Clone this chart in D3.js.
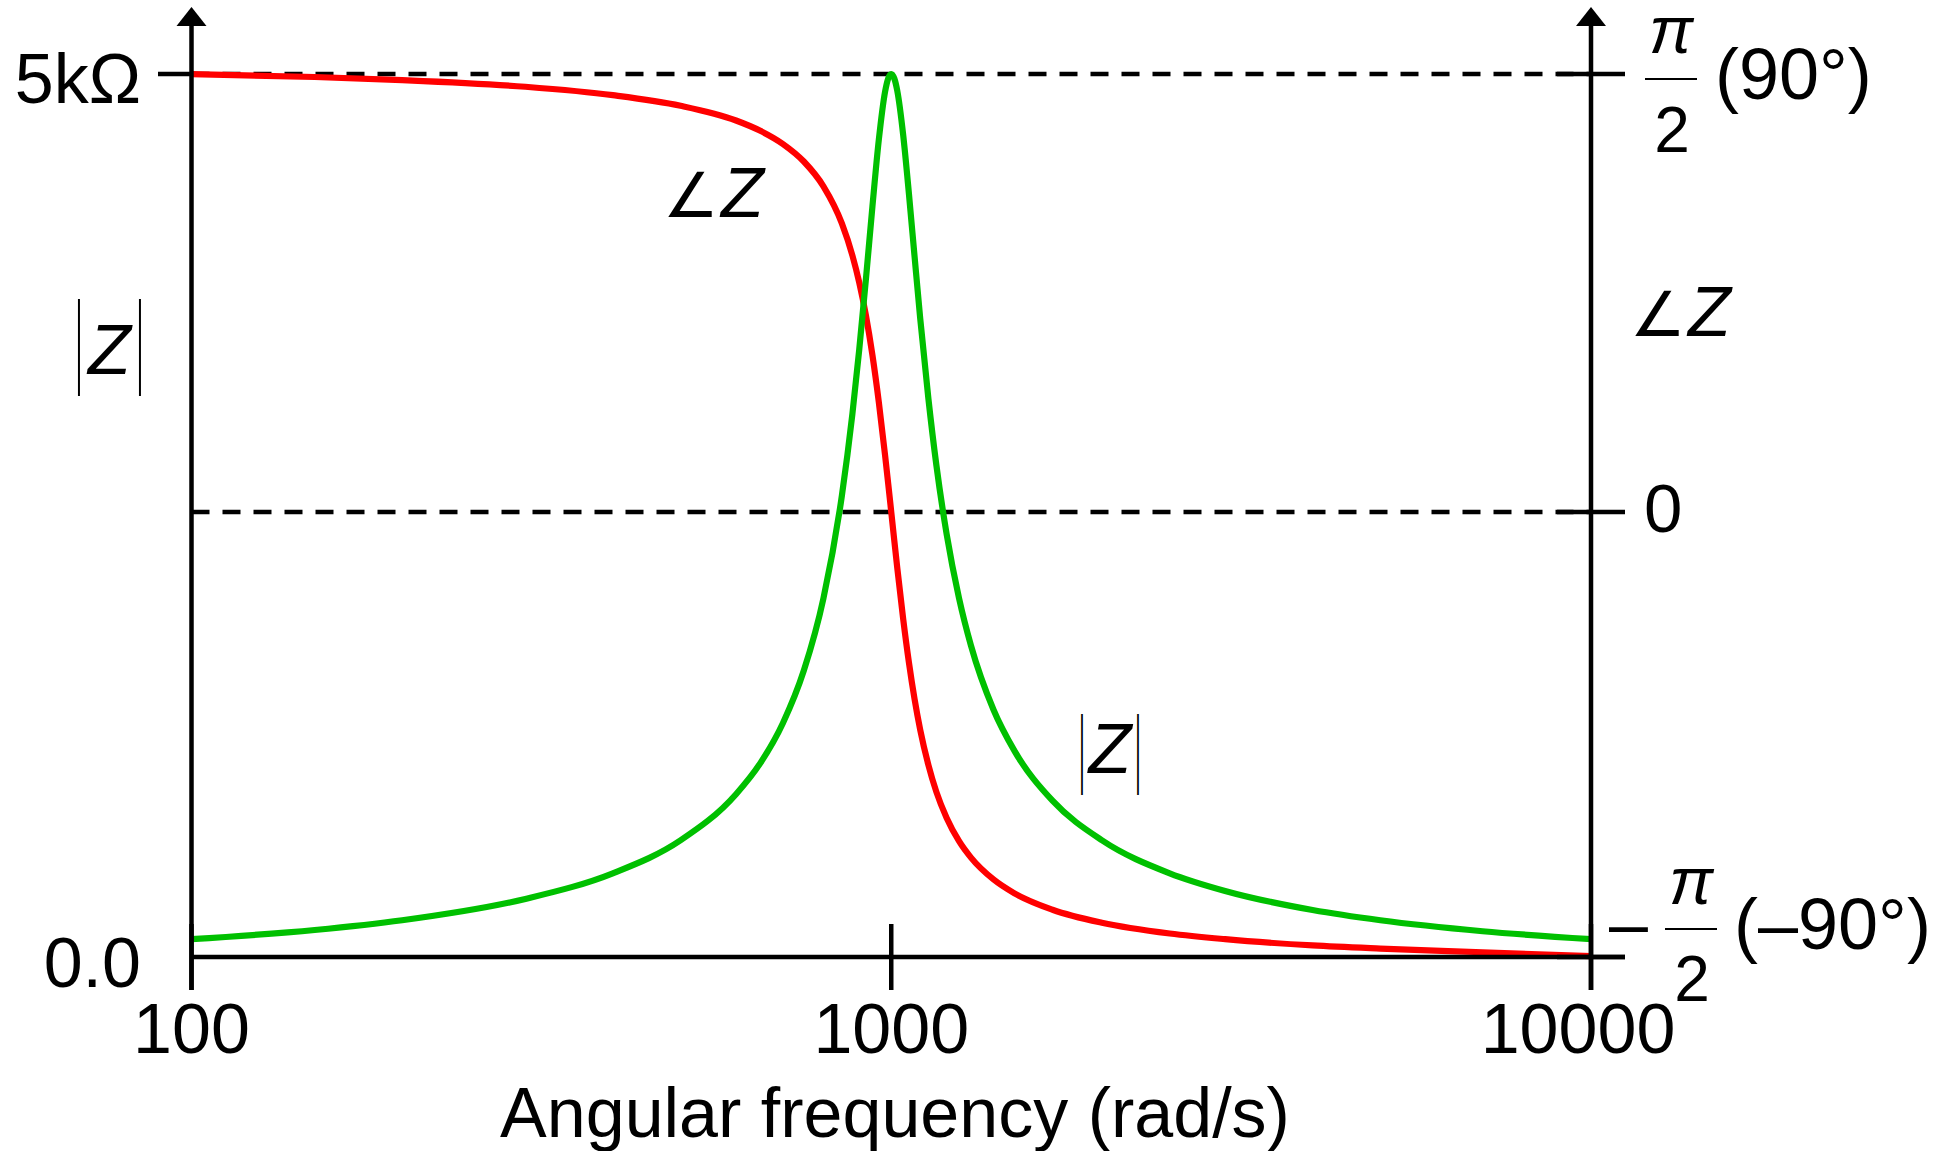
<!DOCTYPE html>
<html>
<head>
<meta charset="utf-8">
<script src="https://cdn.jsdelivr.net/npm/d3@7"></script>
<style>
  html, body { margin: 0; padding: 0; background: #fff; }
  svg { display: block; }
</style>
</head>
<body>
<svg id="chart" width="1953" height="1151"></svg>
<script>
// Angular frequency samples (rad/s)
const omega = [100, 150, 200, 300, 400, 500, 600, 650, 700, 750, 800, 850, 880, 900, 920, 940, 960, 980, 990,
  1000, 1010, 1020, 1040, 1060, 1080, 1100, 1130, 1160, 1200, 1250, 1300, 1400, 1500, 1700, 2000, 2500,
  3000, 4000, 5000, 7000, 10000];

// Impedance magnitude |Z| (ohms)
const magnitude = [101, 153, 208, 329, 474, 661, 922, 1098, 1324, 1622, 2031, 2612, 3076, 3439, 3838, 4251, 4629, 4901, 4975,
  5000, 4975, 4905, 4655, 4320, 3962, 3616, 3162, 2786, 2394, 2031, 1763, 1400, 1167, 885, 661, 474,
  374, 266, 208, 146, 101];

// Impedance angle ∠Z (radians)
const phase = [1.570, 1.560, 1.549, 1.525, 1.495, 1.457, 1.404, 1.367, 1.320, 1.257, 1.168, 1.035, 0.920, 0.823, 0.705, 0.562, 0.393, 0.202, 0.102,
  0, -0.100, -0.197, -0.377, -0.532, -0.662, -0.769, -0.893, -0.988, -1.080, -1.162, -1.220, -1.297, -1.346, -1.404, -1.450, -1.488,
  -1.508, -1.530, -1.541, -1.554, -1.568];

// Axis ticks
const freqTicks = [100, 1000, 10000];
const freqTickLabels = ["100", "1000", "10000"];
const magTicks = [0, 5000];
const magTickLabels = ["0.0", "5kΩ"];
const phaseTicks = [Math.PI / 2, 0, -Math.PI / 2];

const FONT = "'Liberation Sans', Arial, Helvetica, sans-serif";
const BLACK = "#000";
const RED = "#ff0000";
const GREEN = "#00c000";

const svg = d3.select("#chart");

const x = d3.scaleLog().domain([100, 10000]).range([191.5, 1591]);
const yMag = d3.scaleLinear().domain([0, 5000]).range([957, 74]);
const yPhase = d3.scaleLinear().domain([-Math.PI / 2, 0, Math.PI / 2]).range([957, 512, 74]);

const data = omega.map((w, i) => ({ w, z: magnitude[i], p: phase[i] }));

const xL = x(100), xR = x(10000), yBase = yMag(0);

// Reference dashed lines: top of |Z| range and zero phase
svg.append("g").selectAll("line")
  .data([yMag(5000), yPhase(0)])
  .join("line")
  .attr("x1", xL).attr("x2", xR)
  .attr("y1", d => d).attr("y2", d => d)
  .attr("stroke", BLACK).attr("stroke-width", 4.5)
  .attr("stroke-dasharray", "18,13");

// Curves
const phaseLine = d3.line().x(d => x(d.w)).y(d => yPhase(d.p)).curve(d3.curveMonotoneX);
const magLine = d3.line().x(d => x(d.w)).y(d => yMag(d.z)).curve(d3.curveMonotoneX);

svg.append("path").datum(data)
  .attr("d", phaseLine)
  .attr("fill", "none").attr("stroke", RED).attr("stroke-width", 6.2)
  .attr("stroke-linejoin", "round");

svg.append("path").datum(data)
  .attr("d", magLine)
  .attr("fill", "none").attr("stroke", GREEN).attr("stroke-width", 6.2)
  .attr("stroke-linejoin", "round");

// Axis lines
const axes = svg.append("g").attr("stroke", BLACK).attr("stroke-width", 4.5);
axes.append("line").attr("x1", xL).attr("x2", xL).attr("y1", 990).attr("y2", 22);
axes.append("line").attr("x1", xR).attr("x2", xR).attr("y1", 990).attr("y2", 22);
axes.append("line").attr("x1", xL).attr("x2", 1625).attr("y1", yBase).attr("y2", yBase);

// Arrow heads
svg.append("g").selectAll("path")
  .data([xL, xR])
  .join("path")
  .attr("d", d => `M${d},7 L${d + 15},26 L${d - 15},26 Z`)
  .attr("fill", BLACK);

// Frequency ticks
axes.selectAll(".xtick")
  .data(freqTicks)
  .join("line")
  .attr("class", "xtick")
  .attr("x1", d => x(d)).attr("x2", d => x(d))
  .attr("y1", 924).attr("y2", 990);

// |Z| tick at the top value
axes.append("line")
  .attr("x1", 158).attr("x2", xL)
  .attr("y1", yMag(5000)).attr("y2", yMag(5000));

// Phase ticks on the right axis
axes.selectAll(".ptick")
  .data(phaseTicks)
  .join("line")
  .attr("class", "ptick")
  .attr("x1", 1557).attr("x2", 1625)
  .attr("y1", d => yPhase(d)).attr("y2", d => yPhase(d));

// Frequency tick labels
const freqLabelShift = [0, 0, -13];
svg.append("g").selectAll("text")
  .data(freqTicks)
  .join("text")
  .attr("x", (d, i) => x(d) + freqLabelShift[i])
  .attr("y", 1053)
  .attr("text-anchor", "middle")
  .attr("font-family", FONT).attr("font-size", 70)
  .text((d, i) => freqTickLabels[i]);

// |Z| tick labels
svg.append("g").selectAll("text")
  .data(magTicks)
  .join("text")
  .attr("x", 141)
  .attr("y", d => yMag(d) + (d === 0 ? 30 : 29))
  .attr("text-anchor", "end")
  .attr("font-family", FONT).attr("font-size", 70)
  .text((d, i) => magTickLabels[i]);

// Axis title
svg.append("text")
  .attr("x", 895).attr("y", 1137)
  .attr("text-anchor", "middle")
  .attr("font-family", FONT).attr("font-size", 70)
  .text("Angular frequency (rad/s)");

// Phase tick labels
const phaseG = svg.append("g").attr("font-family", FONT);

// π/2 (90°)
phaseG.append("text").attr("x", 1671).attr("y", 53).attr("text-anchor", "middle")
  .attr("font-size", 66).attr("font-style", "italic").text("π");
phaseG.append("line").attr("x1", 1645).attr("x2", 1697).attr("y1", 79).attr("y2", 79)
  .attr("stroke", BLACK).attr("stroke-width", 1.8);
phaseG.append("text").attr("x", 1672).attr("y", 152).attr("text-anchor", "middle")
  .attr("font-size", 64).text("2");
phaseG.append("text").attr("x", 1715).attr("y", 99)
  .attr("font-size", 72).text("(90°)");

// 0
phaseG.append("text").attr("x", 1644).attr("y", yPhase(0) + 20)
  .attr("font-size", 69).text("0");

// −π/2 (−90°)
phaseG.append("text").attr("x", 1609).attr("y", 948)
  .attr("font-size", 70).text("–");
phaseG.append("text").attr("x", 1691).attr("y", 904).attr("text-anchor", "middle")
  .attr("font-size", 66).attr("font-style", "italic").text("π");
phaseG.append("line").attr("x1", 1665).attr("x2", 1717).attr("y1", 929).attr("y2", 929)
  .attr("stroke", BLACK).attr("stroke-width", 1.8);
phaseG.append("text").attr("x", 1692).attr("y", 1001).attr("text-anchor", "middle")
  .attr("font-size", 64).text("2");
phaseG.append("text").attr("x", 1734).attr("y", 949)
  .attr("font-size", 72).text("(–90°)");

// Curve annotations
function angleLabel(xPos, baseline) {
  const t = svg.append("text").attr("x", xPos).attr("y", baseline)
    .attr("font-family", FONT).attr("font-size", 70);
  t.append("tspan").attr("font-family", "'DejaVu Sans', sans-serif").attr("font-size", 62)
    .attr("font-weight", 200).text("∠");
  t.append("tspan").attr("dx", 2).attr("font-style", "italic").text("Z");
}
angleLabel(663, 217);
angleLabel(1630, 336);

function absLabel(xLeft, xRight, zBaseline, barBaseline, barSize) {
  const g = svg.append("g").attr("font-family", FONT);
  [xLeft, xRight].forEach(bx => {
    g.append("g").attr("transform", `translate(${bx},${barBaseline}) scale(0.24,1)`)
      .append("text").attr("text-anchor", "middle").attr("font-size", barSize).text("|");
  });
  g.append("text").attr("x", (xLeft + xRight) / 2).attr("y", zBaseline)
    .attr("text-anchor", "middle").attr("font-style", "italic").attr("font-size", 70).text("Z");
}
absLabel(79, 140, 374, 374, 103);
absLabel(1082, 1138, 773, 777, 87);
</script>
</body>
</html>
